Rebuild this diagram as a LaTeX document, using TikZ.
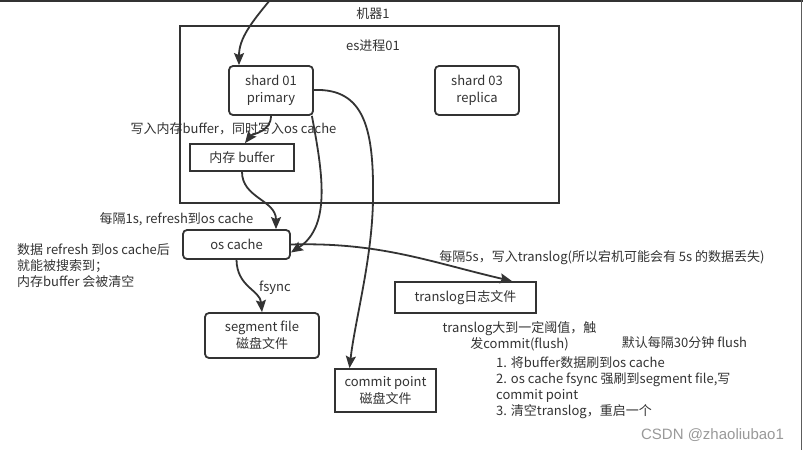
\documentclass[tikz,border=0pt]{standalone}
\usepackage{fontspec}
\setmainfont{Noto Sans CJK SC}
\newfontfamily\wmfont{Liberation Sans}
\usetikzlibrary{arrows.meta}
\definecolor{ink}{HTML}{333333}
\tikzset{
  base/.style={draw=ink, line width=1.8pt, align=center, inner sep=0pt, text=ink},
  rbox/.style={base, rounded corners=4pt},
  sbox/.style={base},
  lbl/.style={text=ink, inner sep=0pt, align=center},
  arr/.style={draw=ink, line width=1.8pt, -{Stealth[length=12pt,width=10pt,inset=2pt]}},
}
\begin{document}
\begin{tikzpicture}[x=1pt,y=-1pt,font=\fontsize{13}{17}\selectfont]
\useasboundingbox (0,0) rectangle (803,450);
\fill[white] (0,0) rectangle (803,450);
% frame lines
\draw[ink, line width=1.5pt] (0,0.75) -- (803,0.75);
\draw[ink!80, line width=1.5pt] (801.5,0) -- (801.5,450);

\node[lbl] (m1) at (373,14) {机器1};
\node[sbox, minimum width=379pt, minimum height=177pt] (es) at (369.5,114.5) {};
\node[lbl] (esl) at (373,46) {es进程01};

\node[rbox, minimum width=84pt, minimum height=49pt] (s1) at (271,90.5) {shard 01\\primary};
\node[rbox, minimum width=84pt, minimum height=49pt] (s3) at (477,90.5) {shard 03\\replica};
\node[sbox, minimum width=104pt, minimum height=27pt] (buf) at (242,157.5) {内存 buffer};
\node[rbox, minimum width=107pt, minimum height=29pt] (oc) at (236.5,244.5) {os cache};
\node[rbox, minimum width=114pt, minimum height=45pt] (seg) at (262,335.5) {segment file\\磁盘文件};
\node[sbox, minimum width=101pt, minimum height=43pt] (cp) at (385.5,390.5) {commit point\\磁盘文件};
\node[sbox, minimum width=141pt, minimum height=31pt] (tl) at (465.5,297.5) {translog日志文件};

% labels
\node[lbl] (wl) at (233.5,129) {写入内存buffer，同时写入os cache};
\node[lbl] (rl) at (176.5,219) {每隔1s, refresh到os cache};
\node[lbl, anchor=west, align=left, font=\fontsize{13}{16}\selectfont] (note) at (17,266) {数据 refresh 到os cache后\\就能被搜索到；\\内存buffer 会被清空};
\node[lbl] (fs) at (275,288) {fsync};
\node[lbl] (l5) at (602,258) {每隔5s，写入translog(所以宕机可能会有 5s 的数据丢失)};
\node[lbl, font=\fontsize{13}{16}\selectfont] (th) at (519.5,336) {translog大到一定阈值，触\\发commit(flush)};
\node[lbl] (df) at (684.5,343) {默认每隔30分钟 flush};
\node[lbl, anchor=west, align=left, font=\fontsize{13}{16}\selectfont] (lst) at (496,388) {1. 将buffer数据刷到os cache\\2. os cache fsync 强刷到segment file,写\\commit point\\3. 清空translog，重启一个};
\node[lbl, text=black!40, font=\wmfont\fontsize{15}{17}\selectfont] (wm) at (712.5,435) {CSDN @zhaoliubao1};

% connectors
\coordinate (top) at (270,0);
\draw[arr] (top) .. controls (252,22) and (239,38) .. ([xshift=-32pt]s1.north);
\draw[arr] (s1.south) .. controls (271,132) and (252,134) .. ([xshift=3pt]buf.north);
\draw[arr] (buf.south) .. controls (242,198) and (276,200) .. ([xshift=39.5pt]oc.north);
\draw[arr] ([xshift=-2pt]s1.south east) .. controls (322,170) and (332,226) .. ([yshift=-8pt]oc.east);
\draw[arr] ([yshift=0.5pt]s1.east) .. controls (365,88) and (374,130) .. (373,200) .. controls (372,260) and (355,320) .. ([xshift=-36pt]cp.north);
\draw[arr] (oc.east) .. controls (380,242) and (430,262) .. ([xshift=46.5pt]tl.north);
\draw[arr] (oc.south) .. controls (237,287) and (260,290) .. (seg.north);
\end{tikzpicture}
\end{document}
